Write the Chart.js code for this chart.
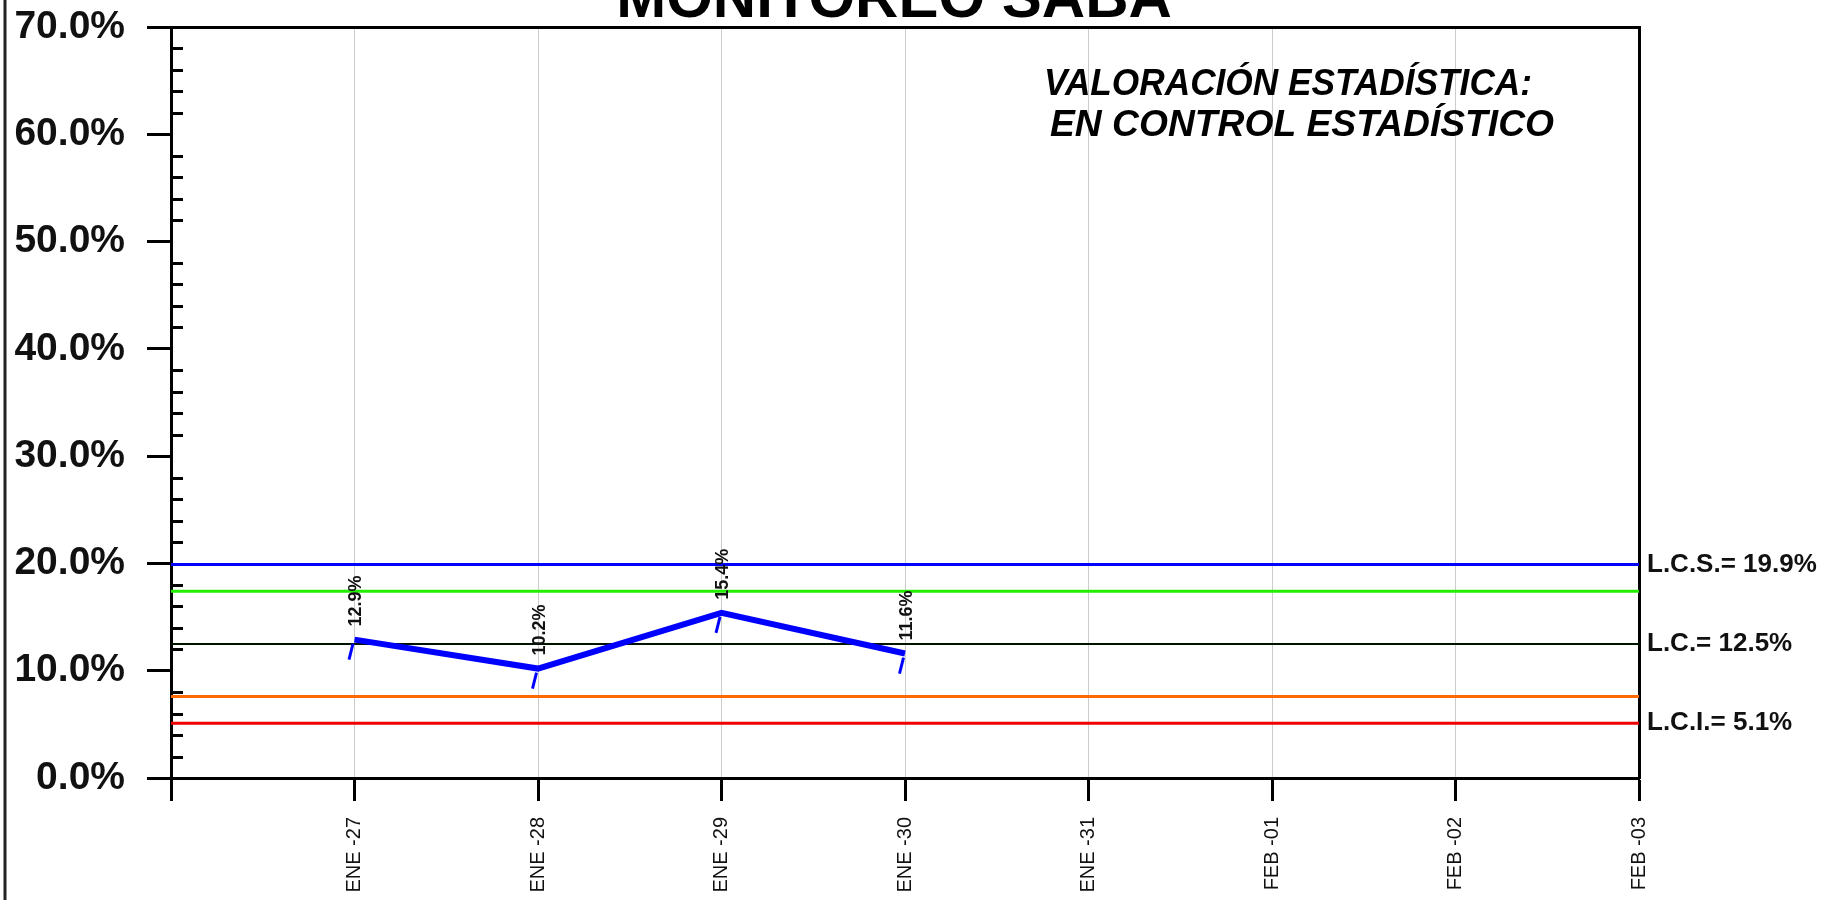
<!DOCTYPE html>
<html>
<head>
<meta charset="utf-8">
<script src="https://cdn.jsdelivr.net/npm/chart.js@4.4.1/dist/chart.umd.min.js"></script>
<style>
html,body{margin:0;padding:0;background:#fff;}
#wrap{width:1824px;height:900px;position:relative;}
</style>
</head>
<body>
<div id="wrap"><canvas id="c" width="1824" height="900"></canvas></div>
<script>
// ---- data ----
const categories = ['ENE -27','ENE -28','ENE -29','ENE -30','ENE -31','FEB -01','FEB -02','FEB -03'];
const values = [12.9, 10.2, 15.4, 11.6];
const lcsValue = 19.9;
const upperWarnValue = 17.4;
const lcValue = 12.5;
const lowerWarnValue = 7.6;
const lciValue = 5.1;
const limitValues = [19.9, 12.5, 5.1];
const limitLabels = ['L.C.S.= 19.9%', 'L.C.= 12.5%', 'L.C.I.= 5.1%'];
const yTickValues = [0, 10, 20, 30, 40, 50, 60, 70];
const titleText = 'MONITOREO SABA';
const statusLines = ['VALORACIÓN ESTADÍSTICA:', 'EN CONTROL ESTADÍSTICO'];

const FONT = '"Liberation Sans", Arial, sans-serif';
const xMin = -1, xMax = categories.length - 1;

function hLine(v) { return [{x: xMin, y: v}, {x: xMax, y: v}]; }
function noPad(s) { s.paddingTop = 0; s.paddingBottom = 0; s.paddingLeft = 0; s.paddingRight = 0; }

function drawFitted(ctx, text, cx, y, width) {
  const w = ctx.measureText(text).width;
  ctx.save();
  ctx.translate(cx, y);
  ctx.scale(width / w, 1);
  ctx.textAlign = 'center';
  ctx.fillText(text, 0, 0);
  ctx.restore();
}

const extras = {
  id: 'extras',
  afterDatasetsDraw(chart) {
    const ctx = chart.ctx;
    const meta = chart.getDatasetMeta(0);
    meta.data.forEach((pt, i) => {
      ctx.save();
      ctx.translate(pt.x + 2, pt.y - 13);
      ctx.rotate(-Math.PI / 2);
      ctx.font = 'bold 18px ' + FONT;
      ctx.textAlign = 'left';
      ctx.textBaseline = 'middle';
      ctx.fillStyle = '#111';
      ctx.fillText(values[i].toFixed(1) + '%', 0, 0);
      ctx.restore();
      // small slanted blue mark below each point
      ctx.save();
      ctx.strokeStyle = '#0000ff';
      ctx.lineWidth = 3;
      ctx.lineCap = 'butt';
      ctx.beginPath();
      ctx.moveTo(pt.x - 1.5, pt.y + 4);
      ctx.lineTo(pt.x - 5.5, pt.y + 20);
      ctx.stroke();
      ctx.restore();
    });
  },
  afterDraw(chart) {
    const ctx = chart.ctx;
    const y = chart.scales.y;
    const left = chart.chartArea.left;
    // minor ticks every 2%
    ctx.save();
    ctx.strokeStyle = '#000';
    ctx.lineWidth = 3;
    for (let v = 0; v <= 70; v += 2) {
      if (v % 10 === 0) continue;
      const py = Math.round(y.getPixelForValue(v)) + 0.5;
      ctx.beginPath();
      ctx.moveTo(left, py);
      ctx.lineTo(left + 12, py);
      ctx.stroke();
    }
    ctx.restore();
    // title
    ctx.save();
    ctx.fillStyle = '#000';
    ctx.font = 'bold 60px ' + FONT;
    ctx.textAlign = 'center';
    ctx.textBaseline = 'alphabetic';
    ctx.fillText(titleText, 894, 17);
    // status text
    ctx.font = 'italic bold 37px ' + FONT;
    drawFitted(ctx, statusLines[0], 1288, 95, 488);
    drawFitted(ctx, statusLines[1], 1302, 136, 504);
    ctx.restore();
    // outer left border
    ctx.save();
    ctx.strokeStyle = '#222';
    ctx.lineWidth = 3;
    ctx.beginPath();
    ctx.moveTo(5, 0);
    ctx.lineTo(5, 900);
    ctx.stroke();
    ctx.restore();
  }
};

new Chart(document.getElementById('c'), {
  type: 'line',
  data: {
    datasets: [
      { label: 'Valores', data: values.map((v, i) => ({x: i, y: v})), borderColor: '#0000ff', borderWidth: 6, pointRadius: 0, borderJoinStyle: 'miter', tension: 0, xAxisID: 'x', yAxisID: 'y' },
      { label: 'LC', data: hLine(lcValue), borderColor: '#001400', borderWidth: 2, pointRadius: 0, xAxisID: 'x', yAxisID: 'y' },
      { label: 'LCS', data: hLine(lcsValue), borderColor: '#0000ff', borderWidth: 3, pointRadius: 0, xAxisID: 'x', yAxisID: 'y' },
      { label: 'Sup', data: hLine(upperWarnValue), borderColor: '#22ee00', borderWidth: 3, pointRadius: 0, xAxisID: 'x', yAxisID: 'y' },
      { label: 'Inf', data: hLine(lowerWarnValue), borderColor: '#ff6a00', borderWidth: 3, pointRadius: 0, xAxisID: 'x', yAxisID: 'y' },
      { label: 'LCI', data: hLine(lciValue), borderColor: '#ee0000', borderWidth: 3, pointRadius: 0, xAxisID: 'x', yAxisID: 'y' }
    ]
  },
  options: {
    responsive: false,
    animation: false,
    devicePixelRatio: 1,
    layout: { padding: { top: 27, left: 0, right: 0, bottom: 0 } },
    plugins: { legend: { display: false }, tooltip: { enabled: false }, title: { display: false } },
    scales: {
      x: {
        type: 'linear', position: 'bottom', min: xMin, max: xMax,
        afterBuildTicks: s => { s.ticks = []; for (let v = xMin; v <= xMax; v++) s.ticks.push({value: v}); },
        afterFit: s => { s.height = 122; noPad(s); },
        ticks: { autoSkip: false, minRotation: 90, maxRotation: 90, padding: 16, color: '#111',
                 font: { family: FONT, size: 20 },
                 callback: v => (v >= 0 ? categories[v] : '') },
        grid: { color: '#cccccc', lineWidth: 1, drawTicks: true, tickLength: 23, tickColor: '#000', tickWidth: 3 },
        border: { display: true, color: '#000', width: 3 }
      },
      xTop: {
        type: 'linear', position: 'top', min: xMin, max: xMax,
        ticks: { display: false },
        grid: { display: false, drawTicks: false },
        border: { display: true, color: '#000', width: 3 },
        afterFit: s => { s.height = 0; noPad(s); }
      },
      y: {
        type: 'linear', position: 'left', min: 0, max: 70,
        afterBuildTicks: s => { s.ticks = yTickValues.map(v => ({value: v})); },
        afterFit: s => { s.width = 171; noPad(s); },
        ticks: { padding: 22, color: '#111', font: { family: FONT, size: 39, weight: 'bold' },
                 callback: v => v.toFixed(1) + '%' },
        grid: { drawOnChartArea: false, drawTicks: true, tickLength: 24, tickColor: '#000', tickWidth: 3 },
        border: { display: true, color: '#000', width: 3 }
      },
      yR: {
        type: 'linear', position: 'right', min: 0, max: 70,
        afterBuildTicks: s => { s.ticks = limitValues.map(v => ({value: v})); },
        afterFit: s => { s.width = 185; noPad(s); },
        ticks: { padding: 8, color: '#111', font: { family: FONT, size: 26, weight: 'bold' },
                 callback: (v, i) => limitLabels[i] },
        grid: { display: false, drawOnChartArea: false, drawTicks: false },
        border: { display: true, color: '#000', width: 3 }
      }
    }
  },
  plugins: [extras]
});
</script>
</body>
</html>
